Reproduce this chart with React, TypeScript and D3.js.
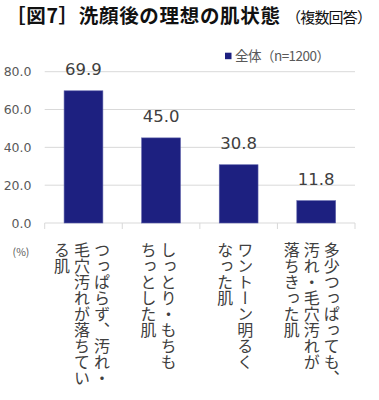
import React from "react";
import * as d3 from "d3";

const categories = [
  ["つっぱらず、汚れ・", "毛穴汚れが落ちてい", "る肌"],
  ["しっとり・もちも", "ちっとした肌"],
  ["ワントーン明るく", "なった肌"],
  ["多少つっぱっても、", "汚れ・毛穴汚れが", "落ちきった肌"],
];
const values = [69.9, 45.0, 30.8, 11.8];
const yTicks = [0, 20, 40, 60, 80];
const seriesName = "全体（n=1200）";
const titleMain = "［図7］洗顔後の理想の肌状態";
const titleSub = "（複数回答）";

const W = 379;
const H = 400;
const left = 44.7;
const right = 355;
const y0 = 223;
const y80 = 71.7;
const barColor = "#1d2080";
const jp = "'Noto Sans CJK JP', 'Noto Sans', sans-serif";
const num = "'DejaVu Sans', Verdana, sans-serif";

export default function App() {
  const ids = categories.map((_, i) => String(i));
  const x = d3.scaleBand<string>().domain(ids).range([left, right]).paddingInner(0.5).paddingOuter(0.25);
  const y = d3.scaleLinear().domain([0, 80]).range([y0, y80]);
  const step = x.step();
  const boundaries = d3.range(categories.length + 1).map((i) => left + i * step);

  return (
    <svg width={W} height={H} style={{ position: "absolute", left: 0, top: 0 }}>
      <rect width={W} height={H} fill="#fff" />
      <text x={6} y={22.5} fontFamily={jp} fontWeight={700} fontSize={19.5} fill="#111"
        textLength={274} lengthAdjust="spacing">
        {titleMain}
      </text>
      <text x={286} y={22.5} fontFamily={jp} fontSize={15} fill="#111" textLength={86} lengthAdjust="spacing">
        {titleSub}
      </text>
      {/* legend */}
      <rect x={225} y={52.7} width={6.5} height={6.5} fill={barColor} />
      <text x={235} y={61} fontFamily={jp} fontSize={13.5} fill="#595959" textLength={95} lengthAdjust="spacing">
        {seriesName}
      </text>
      {/* gridlines */}
      {yTicks.map((t) => (
        <g key={t}>
          <line x1={left} x2={right} y1={y(t)} y2={y(t)} stroke="#d9d9d9" strokeWidth={1} />
          <text x={31.5} y={y(t) + 4.5} textAnchor="end" fontFamily={num} fontSize={12.5} fill="#595959">
            {t.toFixed(1)}
          </text>
        </g>
      ))}
      {boundaries.map((b, i) => (
        <line key={i} x1={b} x2={b} y1={y0} y2={y0 + 6} stroke="#d9d9d9" strokeWidth={1} />
      ))}
      {/* bars */}
      {values.map((v, i) => (
        <g key={i}>
          <rect
            x={x(String(i))!}
            y={y(v)}
            width={x.bandwidth()}
            height={y0 - y(v)}
            fill={barColor}
            stroke="#5a5ea8"
            strokeWidth={0.6}
          />
          <text
            x={x(String(i))! + x.bandwidth() / 2}
            y={y(v) - 16}
            textAnchor="middle"
            fontFamily={num}
            fontSize={16.5}
            fill="#404040"
          >
            {v.toFixed(1)}
          </text>
        </g>
      ))}
      {/* category labels vertical */}
      {categories.map((lines, i) => {
        const cx = x(String(i))! + x.bandwidth() / 2 - 1.5 - i;
        const n = lines.length;
        return lines.map((line, j) => (
          <text
            key={i + "-" + j}
            x={cx + ((n - 1) / 2 - j) * 20}
            y={242}
            fontFamily={jp}
            fontSize={16}
            fill="#404040"
            style={{ writingMode: "vertical-rl" } as any}
          >
            {line}
          </text>
        ));
      })}
      <text x={21} y={255.5} textAnchor="middle" fontFamily={jp} fontSize={10.5} fill="#595959">(%)</text>
    </svg>
  );
}
